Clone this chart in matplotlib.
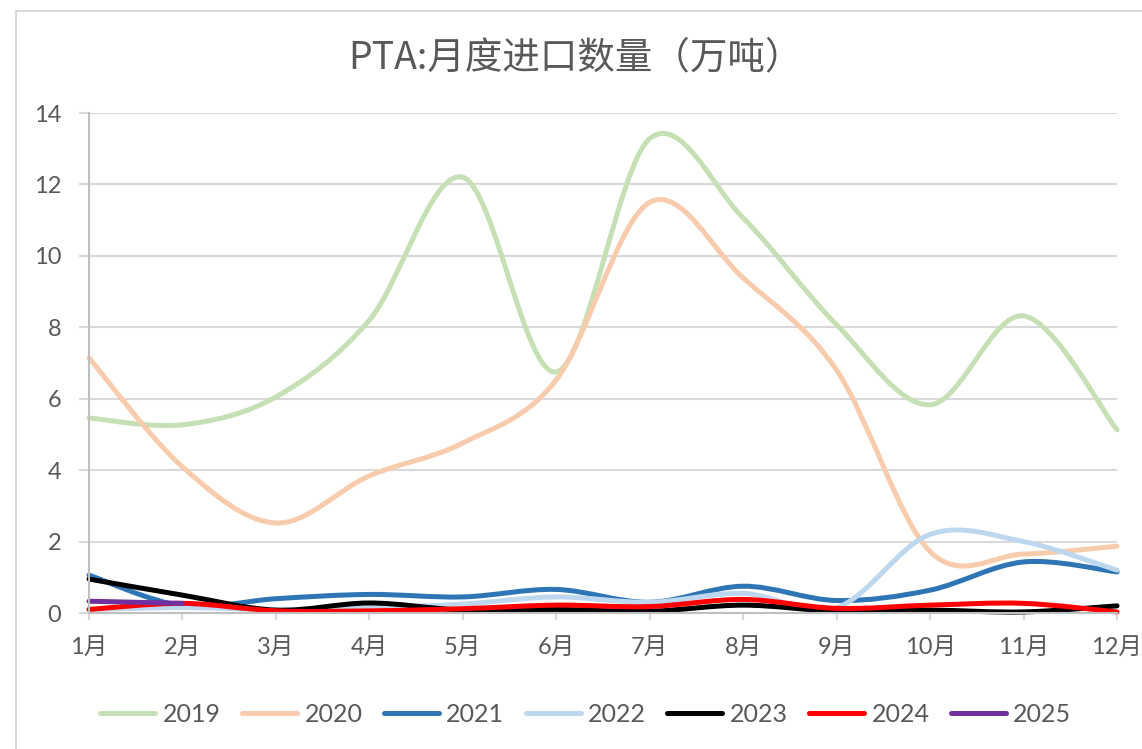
"""PTA monthly import volume, smoothed Excel-style lines."""

import matplotlib

matplotlib.use("Agg")
import matplotlib.pyplot as plt
from matplotlib.lines import Line2D
from matplotlib.patches import PathPatch
from matplotlib.path import Path

plt.rcParams["font.family"] = ["Lato", "Noto Sans CJK SC", "DejaVu Sans"]

months = ["1月", "2月", "3月", "4月", "5月", "6月", "7月", "8月", "9月", "10月", "11月", "12月"]
years = ["2019", "2020", "2021", "2022", "2023", "2024", "2025"]

v2019 = [5.46, 5.27, 6.05, 8.2, 12.2, 6.75, 13.28, 11.06, 8.07, 5.83, 8.32, 5.13]
v2020 = [7.14, 4.09, 2.52, 3.84, 4.76, 6.53, 11.5, 9.38, 6.8, 1.72, 1.65, 1.87]
v2021 = [1.06, 0.2, 0.4, 0.52, 0.45, 0.66, 0.3, 0.75, 0.35, 0.64, 1.43, 1.15]
v2022 = [0.1, 0.15, 0.1, 0.15, 0.25, 0.45, 0.3, 0.55, 0.15, 2.2, 2.0, 1.2]
v2023 = [0.95, 0.5, 0.08, 0.28, 0.08, 0.1, 0.05, 0.22, 0.05, 0.08, 0.03, 0.2]
v2024 = [0.1, 0.27, 0.06, 0.06, 0.12, 0.22, 0.18, 0.38, 0.13, 0.22, 0.27, 0.03]
v2025 = [0.33, 0.27]

series = [v2019, v2020, v2021, v2022, v2023, v2024, v2025]
colors = ["#C5E0B4", "#F8CBAD", "#2E75B6", "#BDD7EE", "#000000", "#FF0000", "#7030A0"]


def smooth_path(values):
    """Bezier path through the points, control points like Excel's smoothed line."""
    pts = list(enumerate(values))
    n = len(pts)
    verts = [pts[0]]
    codes = [Path.MOVETO]
    for i in range(n - 1):
        p0 = pts[max(i - 1, 0)]
        p1 = pts[i]
        p2 = pts[i + 1]
        p3 = pts[min(i + 2, n - 1)]
        c1 = (p1[0] + (p2[0] - p0[0]) / 6, p1[1] + (p2[1] - p0[1]) / 6)
        c2 = (p2[0] - (p3[0] - p1[0]) / 6, p2[1] - (p3[1] - p1[1]) / 6)
        verts += [c1, c2, p2]
        codes += [Path.CURVE4] * 3
    return Path(verts, codes)


fig = plt.figure(figsize=(11.42, 7.49), dpi=100)
ax = fig.add_axes([89 / 1142, 1 - 613 / 749, 1028 / 1142, 500 / 749])

lw = 3.6
for vals, c in zip(series, colors):
    patch = PathPatch(smooth_path(vals), fill=False, edgecolor=c, linewidth=lw,
                      capstyle="round", joinstyle="round", clip_on=False)
    ax.add_patch(patch)

ax.set_xlim(0, len(months) - 1)
ax.set_ylim(0, 14)
ax.set_xticks(range(len(months)))
ax.set_xticklabels(months)
ax.set_yticks(range(0, 15, 2))

grid_c = "#D9D9D9"
ax.grid(axis="y", color=grid_c, linewidth=1.5)
ax.set_axisbelow(True)
for side in ["top", "right"]:
    ax.spines[side].set_visible(False)
for side in ["left", "bottom"]:
    ax.spines[side].set_color("#BFBFBF")
    ax.spines[side].set_linewidth(1.5)
ax.tick_params(axis="y", length=7, width=1.5, color=grid_c, pad=13,
               labelsize=17, labelcolor="#595959")
ax.tick_params(axis="x", length=5, width=1.5, color=grid_c, pad=12,
               labelsize=17, labelcolor="#595959")

# title is centred on the whole chart area, not on the plot area
fig.text(575 / 1142, 1 - 58 / 749, "PTA:月度进口数量（万吨）", fontsize=27, color="#595959",
         family=["Noto Sans CJK SC", "DejaVu Sans"], ha="center", va="center")

handles = [Line2D([], [], color=c, linewidth=lw, solid_capstyle="round") for c in colors]
fig.legend(handles, years, loc="center", bbox_to_anchor=(0.513, 1 - 714 / 749),
           ncol=len(years), frameon=False, fontsize=18, handlelength=2.2,
           columnspacing=0.85, handletextpad=0.3, labelcolor="#595959")

# chart area border (only top and left edges fall inside the image)
fig.add_artist(Line2D([16 / 1142, 16 / 1142], [0, 1 - 11 / 749], color=grid_c, linewidth=1.5))
fig.add_artist(Line2D([16 / 1142, 1], [1 - 11 / 749, 1 - 11 / 749], color=grid_c, linewidth=1.5))

fig.savefig("out.png", dpi=100)
